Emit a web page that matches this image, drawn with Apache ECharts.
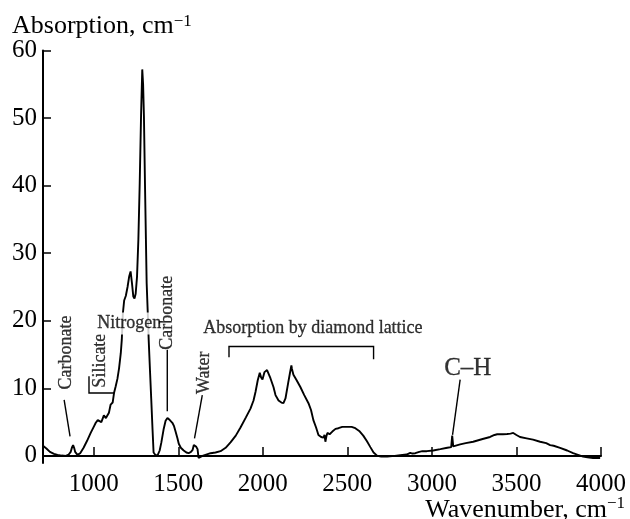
<!DOCTYPE html>
<html>
<head>
<meta charset="utf-8">
<script src="https://cdn.jsdelivr.net/npm/echarts@6/dist/echarts.min.js"></script>
<style>
  html, body { margin: 0; padding: 0; background: #fff; }
  #chart { width: 630px; height: 519px; }
</style>
</head>
<body>
<div id="chart"></div>
<script>
// spectrum
const wavenumber = [
  700, 720, 741, 765, 786, 810, 835, 852, 864, 872, 878, 884, 890, 904, 920, 940, 960, 982,
  1000, 1012, 1024, 1035, 1045, 1060, 1072, 1080, 1090, 1100, 1112, 1120, 1130, 1140, 1150,
  1160, 1166, 1172, 1180, 1190, 1200, 1210, 1218, 1226, 1234, 1241, 1248, 1256, 1264, 1272,
  1280, 1287, 1292, 1297, 1303, 1313, 1319, 1325, 1333, 1340, 1348, 1354, 1366, 1378, 1390,
  1400, 1413, 1425, 1436, 1450, 1465, 1475, 1484, 1495, 1503, 1515, 1532, 1548, 1561, 1575,
  1585, 1592, 1597, 1605, 1614, 1620, 1628, 1643, 1665, 1691, 1720, 1750, 1780, 1809, 1840,
  1868, 1900, 1927, 1945, 1957, 1970, 1982, 1990, 1998, 2010, 2025, 2034, 2045, 2063, 2075,
  2093, 2110, 2122, 2134, 2150, 2160, 2169, 2172, 2181, 2200, 2222, 2245, 2270, 2285, 2299,
  2315, 2329, 2345, 2358, 2365, 2370, 2376, 2382, 2395, 2411, 2430, 2447, 2470, 2500, 2525,
  2547, 2570, 2594, 2615, 2636, 2655, 2677, 2700, 2736, 2780, 2813, 2850, 2872, 2885, 2902,
  2925, 2943, 2970, 3008, 3050, 3091, 3114, 3120, 3126, 3167, 3200, 3244, 3300, 3344, 3370,
  3386, 3420, 3445, 3465, 3481, 3500, 3521, 3560, 3598, 3640, 3676, 3685, 3699, 3720, 3758,
  3800, 3835, 3860, 3894, 3920, 3953, 3995
];
const absorption = [
  1.5, 1.1, 0.6, 0.3, 0.15, 0.05, 0.0, 0.2, 0.6, 1.3, 1.6, 1.2, 0.6, 0.15, 0.4, 1.2, 2.2, 3.4,
  4.3, 4.9, 5.3, 5.1, 5.0, 6.0, 5.6, 5.6, 6.4, 7.6, 7.9, 9.3, 10.3, 11.4, 13.0,
  15.2, 17.2, 21.0, 23.0, 23.7, 25.0, 26.6, 27.3, 25.6, 23.6, 23.3, 24.0, 26.5, 32.0, 40.4,
  50.5, 57.2, 55.0, 50.2, 40.4, 25.6, 21.6, 17.2, 12.5, 8.5, 3.8, 0.5, 0.1, 0.1, 0.8,
  2.0, 3.9, 5.2, 5.6, 5.3, 4.9, 4.4, 3.6, 2.6, 1.8, 1.2, 0.8, 0.5, 0.4, 0.6,
  0.9, 1.6, 1.8, 1.4, 1.0, -0.3, -0.2, 0.0, 0.2, 0.4, 0.5, 0.7, 1.2, 2.0, 3.0,
  4.2, 5.7, 7.0, 8.2, 9.5, 11.2, 12.3, 11.6, 11.3, 12.4, 12.7, 12.6, 11.5, 10.2, 9.0,
  8.2, 7.9, 7.8, 8.5, 10.8, 12.2, 13.4, 12.9, 12.0, 11.2, 10.2, 9.0, 7.8, 6.8, 5.3,
  4.2, 3.1, 2.8, 2.7, 3.1, 2.1, 2.9, 3.4, 3.2, 3.6, 4.0, 4.1, 4.3, 4.3, 4.3,
  4.1, 3.7, 3.0, 2.2, 1.3, 0.5, 0.0, -0.1, -0.1, 0.0, 0.1, 0.2, 0.45, 0.35, 0.4,
  0.6, 0.7, 0.7, 0.8, 1.0, 1.2, 1.3, 3.0, 1.4, 1.7, 1.9, 2.1, 2.5, 2.8, 3.1,
  3.2, 3.2, 3.25, 3.3, 3.4, 3.1, 2.8, 2.6, 2.4, 2.1, 1.9, 2.1, 1.6, 1.5, 1.2,
  0.8, 0.4, 0.2, -0.1, -0.2, -0.3, -0.3
];

const xTicks = [1000, 1500, 2000, 2500, 3000, 3500, 4000];
const yTicks = [0, 10, 20, 30, 40, 50, 60];

// band labels: [name, wavenumber, absorption, rotate, fontSize]
const bandLabels = [
  ['Carbonate', 835, 15.3, 90, 18],
  ['Silicate', 1038, 14.1, 90, 18],
  ['Nitrogen', 1210, 19.6, 0, 18],
  ['Carbonate', 1434, 21.2, 90, 18],
  ['Water', 1655, 12.3, 90, 18],
  ['Absorption by diamond lattice', 2296, 18.9, 0, 18],
  ['C\u2013H', 3212, 13.0, 0, 25]
];

// leader lines and brackets, in data units
const leaders = [
  [[825, 8.3], [860, 2.9]],
  [[972, 11.8], [972, 9.3], [1122, 9.3]],
  [[1435, 15.7], [1435, 6.6]],
  [[1642, 9.0], [1596, 2.6]],
  [[1800, 14.6], [1800, 16.2], [2655, 16.2], [2655, 14.3]],
  [[3167, 11.3], [3122, 3.1]]
];

const FONT = 'Liberation Serif';

const chart = echarts.init(document.getElementById('chart'));

const option = {
  animation: false,
  backgroundColor: '#fff',
  grid: { left: 43, right: 29, top: 50.5, bottom: 56 },
  xAxis: {
    type: 'value',
    min: 700,
    max: 4000,
    axisLine: { lineStyle: { color: '#000', width: 2 } },
    axisTick: { inside: true, length: 9, customValues: xTicks, lineStyle: { color: '#000', width: 1.5 } },
    axisLabel: {
      customValues: xTicks, margin: 9, color: '#000', fontFamily: FONT, fontSize: 25,
      formatter: v => String(v)
    },
    splitLine: { show: false }
  },
  yAxis: {
    type: 'value',
    min: -1.05,
    max: 60,
    axisLine: { show: true, lineStyle: { color: '#000', width: 2 } },
    axisTick: { show: true, inside: true, length: 8, customValues: yTicks, lineStyle: { color: '#000', width: 1.5 } },
    axisLabel: { customValues: yTicks, margin: 6, color: '#000', fontFamily: FONT, fontSize: 25 },
    splitLine: { show: false }
  },
  graphic: [
    {
      type: 'text',
      left: 12,
      top: 13,
      style: {
        text: 'Absorption, cm{sup|\u22121}',
        font: '26px "Liberation Serif"',
        fill: '#000',
        rich: { sup: { fontSize: 17, fontFamily: FONT, verticalAlign: 'top', fill: '#000' } }
      }
    },
    {
      type: 'text',
      right: 5,
      top: 495,
      style: {
        text: '{t|Wavenumber, cm}{sup|\u22121}',
        fill: '#000',
        rich: {
          t: { fontSize: 26, fontFamily: FONT, lineHeight: 30, fill: '#000' },
          sup: { fontSize: 17, fontFamily: FONT, lineHeight: 17, verticalAlign: 'top', fill: '#000' }
        }
      }
    }
  ],
  series: [
    {
      type: 'line',
      z: 2,
      showSymbol: false,
      clip: false,
      lineStyle: { color: '#000', width: 1.9 },
      data: wavenumber.map((w, i) => [w, absorption[i]])
    },
    {
      type: 'lines',
      z: 3,
      coordinateSystem: 'cartesian2d',
      polyline: true,
      silent: true,
      lineStyle: { color: '#000', width: 1.4, opacity: 1 },
      data: leaders.map(c => ({ coords: c }))
    },
    {
      type: 'scatter',
      z: 5,
      symbolSize: 0,
      silent: true,
      itemStyle: { color: '#000' },
      data: bandLabels.map(b => ({
        name: b[0],
        value: [b[1], b[2]],
        label: {
          rotate: b[3],
          fontSize: b[4],
          backgroundColor: b[0] === 'Nitrogen' ? '#fff' : 'transparent',
          padding: b[0] === 'Nitrogen' ? [2, 1] : 0
        }
      })),
      label: {
        show: true,
        position: 'inside',
        formatter: '{b}',
        color: '#000',
        textBorderColor: '#000',
        textBorderWidth: 0.3,
        fontFamily: FONT
      }
    }
  ]
};

chart.setOption(option);
</script>
</body>
</html>
